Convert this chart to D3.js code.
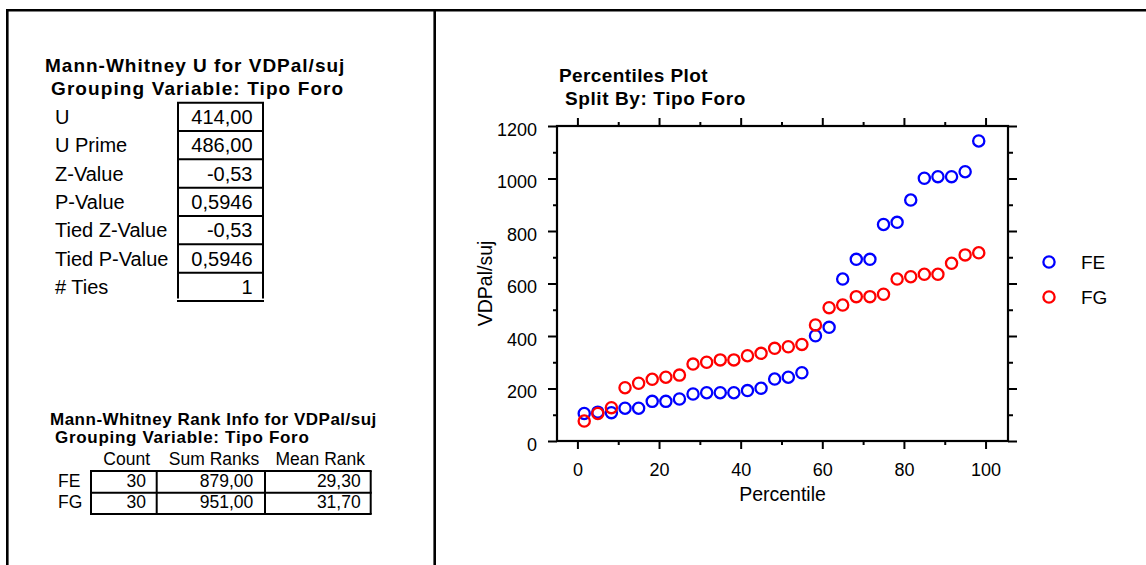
<!DOCTYPE html>
<html>
<head>
<meta charset="utf-8">
<script src="https://cdn.jsdelivr.net/npm/d3@7"></script>
<style>
  body { margin: 0; background: #fff; }
  svg { display: block; font-family: "Liberation Sans", Arial, sans-serif; }
</style>
</head>
<body>
<svg id="chart"></svg>
<script>
// Mann-Whitney U summary
const statLabels = ["U", "U Prime", "Z-Value", "P-Value", "Tied Z-Value", "Tied P-Value", "# Ties"];
const statValues = ["414,00", "486,00", "-0,53", "0,5946", "-0,53", "0,5946", "1"];

// rank info
const rankHeaders = ["Count", "Sum Ranks", "Mean Rank"];
const rankGroups = ["FE", "FG"];
const rankCounts = ["30", "30"];
const rankSums = ["879,00", "951,00"];
const rankMeans = ["29,30", "31,70"];

// percentiles plot
const percentiles = [1.67, 5, 8.33, 11.67, 15, 18.33, 21.67, 25, 28.33, 31.67, 35, 38.33, 41.67, 45, 48.33,
                     51.67, 55, 58.33, 61.67, 65, 68.33, 71.67, 75, 78.33, 81.67, 85, 88.33, 91.67, 95, 98.33];
const feValues = [105, 110, 108, 125, 125, 151, 151, 160, 179, 184, 184, 184, 192, 201, 236,
                  243, 260, 401, 433, 617, 692, 692, 825, 833, 918, 1001, 1007, 1007, 1026, 1143];
const fgValues = [76, 105, 127, 203, 220, 235, 243, 251, 293, 300, 309, 309, 325, 334, 353,
                  359, 368, 442, 508, 518, 550, 550, 559, 617, 626, 635, 635, 677, 709, 717];
const seriesNames = ["FE", "FG"];
const seriesColors = ["#0000ff", "#ff0000"];
const xMajor = [0, 20, 40, 60, 80, 100];
const xMinor = [10, 30, 50, 70, 90];
const yMajor = [0, 200, 400, 600, 800, 1000, 1200];
const yMinor = [100, 300, 500, 700, 900, 1100];

const width = 1146, height = 565;
const svg = d3.select("#chart").attr("width", width).attr("height", height);

// page frame
svg.append("path")
    .attr("d", `M7.3,${height} V10.3 H${width} M434.7,10.3 V${height}`)
    .attr("fill", "none").attr("stroke", "#000").attr("stroke-width", 2.6);

// ---- left: U table ----
const left = svg.append("g");
left.append("text").attr("x", 45).attr("y", 72)
    .attr("font-size", 19).attr("font-weight", "bold").attr("letter-spacing", 1)
    .text("Mann-Whitney U for VDPal/suj");
left.append("text").attr("x", 51).attr("y", 95)
    .attr("font-size", 19).attr("font-weight", "bold").attr("letter-spacing", 1.1)
    .text("Grouping Variable: Tipo Foro");

const rowY = d3.scaleLinear().domain([0, statLabels.length]).range([102.7, 301]);
const cellL = 178, cellR = 263;
statLabels.forEach((lab, i) => {
  const y0 = rowY(i), y1 = rowY(i + 1);
  left.append("text").attr("x", 55).attr("y", (y0 + y1) / 2 + 7)
      .attr("font-size", 20).text(lab);
  left.append("text").attr("x", 252.5).attr("y", (y0 + y1) / 2 + 7)
      .attr("font-size", 20).attr("text-anchor", "end").text(statValues[i]);
  left.append("line").attr("x1", cellL - 1).attr("x2", cellR + 1).attr("y1", y0).attr("y2", y0)
      .attr("stroke", "#000").attr("stroke-width", 2);
});
const lastY = rowY(statLabels.length);
left.append("path")
    .attr("d", `M${cellL},${rowY(0)} V${lastY - 2.5} M${cellR},${rowY(0)} V${lastY - 2.5} M${cellL - 1},${lastY} H${cellR + 1}`)
    .attr("fill", "none").attr("stroke", "#000").attr("stroke-width", 2);

// ---- left: rank info table ----
left.append("text").attr("x", 50).attr("y", 425)
    .attr("font-size", 17).attr("font-weight", "bold").attr("letter-spacing", 0.5)
    .text("Mann-Whitney Rank Info for VDPal/suj");
left.append("text").attr("x", 55).attr("y", 443)
    .attr("font-size", 17).attr("font-weight", "bold").attr("letter-spacing", 0.7)
    .text("Grouping Variable: Tipo Foro");

const colX = [91, 156.7, 265, 370.7];
const headerEnd = [150, 259.3, 365];
const valueEnd = [146, 253.3, 360.7];
const rowEdges = [471, 492.7, 514];
const rowBase = [486.7, 508.3];

rankHeaders.forEach((h, j) => {
  left.append("text").attr("x", headerEnd[j]).attr("y", 465)
      .attr("font-size", 17.5).attr("text-anchor", "end").text(h);
});
rankGroups.forEach((g, i) => {
  left.append("text").attr("x", 58).attr("y", rowBase[i]).attr("font-size", 17.5).text(g);
  [rankCounts[i], rankSums[i], rankMeans[i]].forEach((v, j) => {
    left.append("text").attr("x", valueEnd[j]).attr("y", rowBase[i])
        .attr("font-size", 17.5).attr("text-anchor", "end").text(v);
  });
});
rowEdges.forEach(y => {
  left.append("line").attr("x1", colX[0] - 1).attr("x2", colX[3] + 1).attr("y1", y).attr("y2", y)
      .attr("stroke", "#000").attr("stroke-width", 2);
});
colX.forEach(x => {
  left.append("line").attr("x1", x).attr("x2", x).attr("y1", rowEdges[0]).attr("y2", rowEdges[2])
      .attr("stroke", "#000").attr("stroke-width", 2);
});

// ---- right: percentiles plot ----
const plot = { left: 557, right: 1008, top: 126, bottom: 441 };
const x = d3.scaleLinear().domain([-5, 105.5]).range([plot.left, plot.right]);
const y = d3.scaleLinear().domain([0, 1200]).range([plot.bottom, plot.top]);

svg.append("text").attr("x", 559).attr("y", 82)
    .attr("font-size", 19).attr("font-weight", "bold").attr("letter-spacing", 0.4)
    .text("Percentiles Plot");
svg.append("text").attr("x", 565).attr("y", 105)
    .attr("font-size", 19).attr("font-weight", "bold").attr("letter-spacing", 0.6)
    .text("Split By: Tipo Foro");

function styleAxis(g) {
  g.select(".domain").remove();
  g.selectAll(".tick line").attr("stroke", "#000").attr("stroke-width", 2);
  g.selectAll(".tick text").attr("font-size", 18).attr("fill", "#000")
      .attr("font-family", '"Liberation Sans", Arial, sans-serif');
}

// bottom
svg.append("g").attr("transform", `translate(0,${plot.bottom})`)
    .call(d3.axisBottom(x).tickValues(xMajor).tickSize(8).tickPadding(14).tickFormat(d3.format("d")))
    .call(styleAxis);
svg.append("g").attr("transform", `translate(0,${plot.bottom})`)
    .call(d3.axisBottom(x).tickValues(xMinor).tickSize(4).tickFormat(""))
    .call(styleAxis);
// top
svg.append("g").attr("transform", `translate(0,${plot.top})`)
    .call(d3.axisTop(x).tickValues(xMajor).tickSize(8).tickFormat(""))
    .call(styleAxis);
svg.append("g").attr("transform", `translate(0,${plot.top})`)
    .call(d3.axisTop(x).tickValues(xMinor).tickSize(4).tickFormat(""))
    .call(styleAxis);
// left
const yAxis = svg.append("g").attr("transform", `translate(${plot.left},0)`)
    .call(d3.axisLeft(y).tickValues(yMajor).tickSize(9).tickPadding(11).tickFormat(d3.format("d")))
    .call(styleAxis);
yAxis.selectAll(".tick text").attr("dy", "0.5em");
svg.append("g").attr("transform", `translate(${plot.left},0)`)
    .call(d3.axisLeft(y).tickValues(yMinor).tickSize(4).tickFormat(""))
    .call(styleAxis);
// right
svg.append("g").attr("transform", `translate(${plot.right},0)`)
    .call(d3.axisRight(y).tickValues(yMajor).tickSize(9).tickFormat(""))
    .call(styleAxis);
svg.append("g").attr("transform", `translate(${plot.right},0)`)
    .call(d3.axisRight(y).tickValues(yMinor).tickSize(5).tickFormat(""))
    .call(styleAxis);

svg.append("rect")
    .attr("x", plot.left).attr("y", plot.top)
    .attr("width", plot.right - plot.left).attr("height", plot.bottom - plot.top)
    .attr("fill", "none").attr("stroke", "#000").attr("stroke-width", 2.2);

svg.append("text").attr("x", (plot.left + plot.right) / 2).attr("y", 501)
    .attr("text-anchor", "middle").attr("font-size", 19.5).text("Percentile");
svg.append("text")
    .attr("transform", `translate(492,${(plot.top + plot.bottom) / 2}) rotate(-90)`)
    .attr("text-anchor", "middle").attr("font-size", 19.5).text("VDPal/suj");

const series = [feValues, fgValues];
series.forEach((vals, s) => {
  svg.append("g").selectAll("circle")
      .data(vals)
      .enter()
      .append("circle")
      .attr("cx", (d, i) => x(percentiles[i]))
      .attr("cy", d => y(d))
      .attr("r", 5.6)
      .attr("fill", "none")
      .attr("stroke", seriesColors[s])
      .attr("stroke-width", 2.3);
});

// legend
const legendY = d3.scalePoint().domain(seriesNames).range([262, 297]);
seriesNames.forEach((name, s) => {
  svg.append("circle").attr("cx", 1049).attr("cy", legendY(name)).attr("r", 5.6)
      .attr("fill", "none").attr("stroke", seriesColors[s]).attr("stroke-width", 2.3);
  svg.append("text").attr("x", 1081).attr("y", legendY(name) + 6.5)
      .attr("font-size", 19).text(name);
});
</script>
</body>
</html>
